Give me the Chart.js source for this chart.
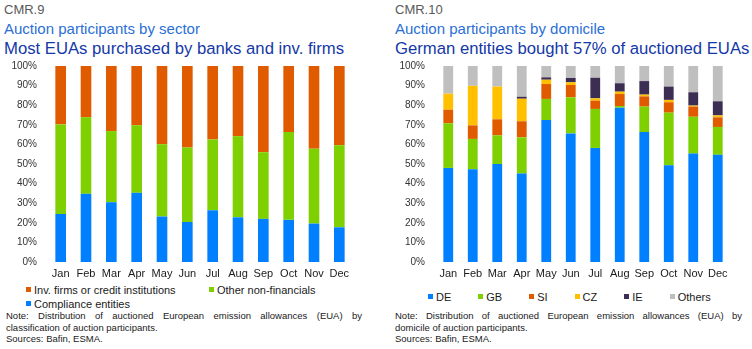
<!DOCTYPE html>
<html>
<head>
<meta charset="utf-8">
<script src="https://cdn.jsdelivr.net/npm/chart.js@4.4.0/dist/chart.umd.min.js"></script>
<style>
  body { margin: 0; width: 752px; height: 349px; background: #fff; position: relative; overflow: hidden;
         font-family: "Liberation Sans", Arial, sans-serif; }
  .abs { position: absolute; white-space: nowrap; }
  .code { font-size: 13px; line-height: 13px; color: #595959; }
  .sub { font-size: 15px; line-height: 15px; color: #2a6fd6; }
  .head { font-size: 16.7px; line-height: 17px; color: #1438a8; }
  canvas { position: absolute; }
  .legend { position: absolute; font-size: 11px; line-height: 14px; color: #1a1a1a; }
  .legend .item { white-space: nowrap; }
  .legend .box { display: inline-block; width: 5px; height: 5px; margin-right: 3px; vertical-align: 2px; }
  #legendSector { left: 26px; top: 283px; display: grid; grid-template-columns: 183px auto; }
  #legendDomicile { left: 428px; top: 290px; display: flex; gap: 27px; }
  .note { position: absolute; font-size: 9.5px; line-height: 11.5px; color: #1a1a1a; white-space: nowrap; }
  .note .just { text-align: justify; text-align-last: justify; white-space: normal; }
</style>
</head>
<body>

<div class="abs code" style="left:4px; top:3px;">CMR.9</div>
<div class="abs sub" style="left:4px; top:21px;">Auction participants by sector</div>
<div class="abs head" style="left:4px; top:40px;">Most EUAs purchased by banks and inv. firms</div>

<div class="abs code" style="left:395px; top:3px;">CMR.10</div>
<div class="abs sub" style="left:395px; top:21px;">Auction participants by domicile</div>
<div class="abs head" style="left:395px; top:40px;">German entities bought 57% of auctioned EUAs</div>

<canvas id="sector" width="352" height="222" style="left:0; top:60px;"></canvas>
<canvas id="domicile" width="354" height="222" style="left:376px; top:60px;"></canvas>

<div class="legend" id="legendSector"></div>
<div class="legend" id="legendDomicile"></div>

<div class="note" style="left:6px; top:310px; width:356px;">
  <div class="just">Note: Distribution of auctioned European emission allowances (EUA) by</div>
  <div>classification of auction participants.</div>
  <div>Sources: Bafin, ESMA.</div>
</div>
<div class="note" style="left:395px; top:310px; width:347px;">
  <div class="just">Note: Distribution of auctioned European emission allowances (EUA) by</div>
  <div>domicile of auction participants.</div>
  <div>Sources: Bafin, ESMA.</div>
</div>

<script>
const months = ['Jan', 'Feb', 'Mar', 'Apr', 'May', 'Jun', 'Jul', 'Aug', 'Sep', 'Oct', 'Nov', 'Dec'];
const yTicks = [0, 10, 20, 30, 40, 50, 60, 70, 80, 90, 100];

// shares by sector, % of auctioned EUAs
const compliance = [24.5, 34.8, 30.5, 35.3, 23.2, 20.4, 26.4, 22.8, 22.0, 21.5, 19.6, 17.7];
const otherNonFin = [45.7, 39.1, 36.3, 34.5, 36.9, 38.0, 36.1, 41.4, 34.0, 44.8, 38.2, 41.9];
const invFirms = [29.8, 26.1, 33.2, 30.2, 39.9, 41.6, 37.5, 35.8, 44.0, 33.7, 42.2, 40.4];

// shares by domicile, % of auctioned EUAs
const de = [48.0, 47.3, 50.0, 45.1, 72.4, 65.6, 58.2, 78.7, 66.3, 49.3, 55.3, 54.7];
const gb = [22.8, 15.5, 14.6, 18.5, 10.8, 18.4, 19.9, 0.9, 13.0, 26.9, 18.8, 14.2];
const si = [6.9, 6.9, 8.2, 8.2, 7.6, 6.3, 4.2, 6.1, 5.2, 5.3, 5.2, 4.9];
const cz = [8.2, 20.2, 16.7, 11.5, 2.2, 1.4, 1.2, 1.2, 0.9, 1.2, 0.5, 1.0];
const ie = [0, 0, 0, 1.0, 1.2, 2.2, 10.5, 4.3, 6.9, 6.8, 6.8, 7.2];
const others = [14.1, 10.1, 10.5, 15.7, 5.8, 6.1, 6.0, 8.8, 7.7, 10.5, 13.4, 18.0];

const BLUE = '#0080ff', GREEN = '#7ed000', ORANGE = '#e05a00',
      YELLOW = '#ffc000', PURPLE = '#3c2d52', GREY = '#bfbfbf';
const FONT = '"Liberation Sans", Arial, sans-serif';

function stackedOptions(axisWidth) {
  return {
    responsive: false,
    animation: false,
    layout: { padding: { top: 6, right: 0, bottom: 0, left: 0 } },
    plugins: { legend: { display: false }, tooltip: { enabled: false } },
    scales: {
      x: {
        stacked: true,
        grid: { display: false, drawTicks: false },
        border: { display: false },
        ticks: { padding: 5, color: '#1a1a1a', font: { family: FONT, size: 11 }, maxRotation: 0, autoSkip: false },
        afterFit: (scale) => {
          scale.height = 20;
          scale.paddingLeft = 0;
          scale.paddingRight = 0;
        }
      },
      y: {
        stacked: true,
        min: 0,
        max: 100,
        grid: { display: false, drawTicks: false },
        border: { display: false },
        afterBuildTicks: (scale) => { scale.ticks = yTicks.map(v => ({ value: v })); },
        ticks: { padding: 11, color: '#333', font: { family: FONT, size: 10 }, callback: (v) => v + '%' },
        afterFit: (scale) => {
          scale.width = axisWidth;
          scale.paddingTop = 0;
          scale.paddingBottom = 0;
        }
      }
    }
  };
}

function bar(label, data, color, pct) {
  return { label, data, backgroundColor: color, barPercentage: pct, categoryPercentage: 1 };
}

const sectorSets = [
  bar('Compliance entities', compliance, BLUE, 0.42),
  bar('Other non-financials', otherNonFin, GREEN, 0.42),
  bar('Inv. firms or credit institutions', invFirms, ORANGE, 0.42)
];

const domicileSets = [
  bar('DE', de, BLUE, 0.4),
  bar('GB', gb, GREEN, 0.4),
  bar('SI', si, ORANGE, 0.4),
  bar('CZ', cz, YELLOW, 0.4),
  bar('IE', ie, PURPLE, 0.4),
  bar('Others', others, GREY, 0.4)
];

new Chart(document.getElementById('sector'), {
  type: 'bar',
  data: { labels: months, datasets: sectorSets },
  options: stackedOptions(48)
});

new Chart(document.getElementById('domicile'), {
  type: 'bar',
  data: { labels: months, datasets: domicileSets },
  options: stackedOptions(60)
});

// html legends, in the order they are listed under each chart
function fillLegend(id, sets) {
  const el = document.getElementById(id);
  sets.forEach((ds) => {
    const item = document.createElement('div');
    item.className = 'item';
    const box = document.createElement('span');
    box.className = 'box';
    box.style.background = ds.backgroundColor;
    item.appendChild(box);
    item.appendChild(document.createTextNode(ds.label));
    el.appendChild(item);
  });
}

fillLegend('legendSector', [sectorSets[2], sectorSets[1], sectorSets[0]]);
fillLegend('legendDomicile', domicileSets);
</script>
</body>
</html>
